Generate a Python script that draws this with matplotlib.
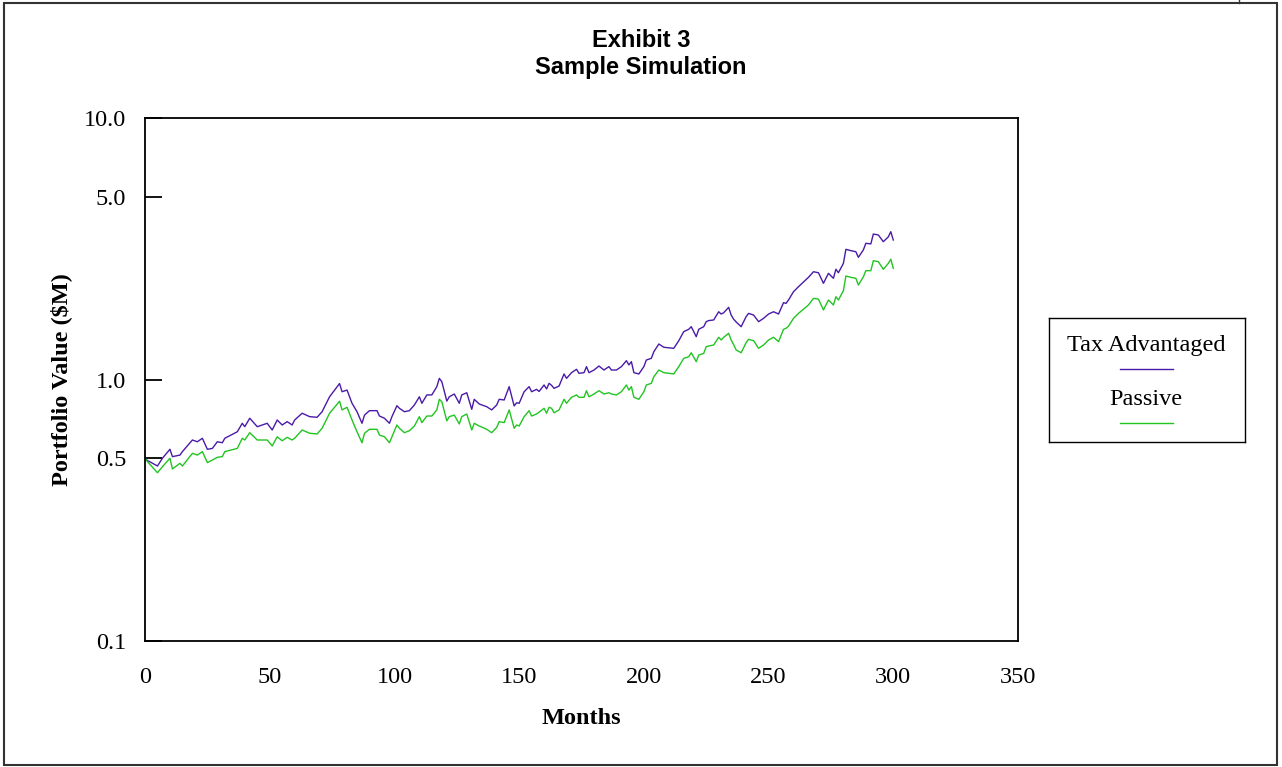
'''
Exhibit 3 - sample simulation of portfolio value, tax advantaged vs passive.
'''

import numpy as np
import matplotlib.pyplot as plt
from matplotlib.patches import Rectangle
from matplotlib.lines import Line2D


################################################################
# Data
months = [0, 1, 5, 7, 10, 11, 14, 15, 19, 21, 23, 25, 27, 29, 31, 32, 37, 39, 40, 42,
          45, 49, 51, 53, 55, 57, 59, 60, 63, 66, 69, 71, 74, 78, 79, 81, 83, 85, 87, 88,
          90, 93, 94, 96, 98, 99, 101, 102, 104, 106, 108, 110, 111, 113, 115, 117, 118, 119, 121, 122,
          124, 126, 127, 129, 131, 132, 134, 137, 139, 141, 142, 144, 146, 148, 149, 150, 152, 154, 155, 157,
          158, 160, 161, 162, 163, 164, 166, 168, 169, 171, 173, 174, 176, 177, 178, 180, 182, 184, 186, 187,
          189, 191, 193, 194, 195, 196, 198, 200, 201, 203, 204, 206, 208, 212, 214, 216, 218, 219, 221, 222,
          224, 225, 226, 228, 230, 231, 232, 234, 235, 236, 237, 239, 241, 242, 244, 246, 248, 250, 252, 254,
          256, 257, 258, 260, 262, 266, 268, 270, 272, 274, 276, 277, 278, 280, 281, 283, 285, 286, 288, 289,
          291, 292, 294, 296, 298, 299, 300]

tax_adv = [0.50, 0.49, 0.467, 0.50, 0.541, 0.507, 0.514, 0.53, 0.587, 0.578, 0.596, 0.541, 0.545, 0.578, 0.573, 0.596, 0.631, 0.68, 0.66, 0.711,
           0.66, 0.68, 0.641, 0.70, 0.67, 0.69, 0.67, 0.70, 0.743, 0.721, 0.717, 0.753, 0.859, 0.965, 0.898, 0.911, 0.811, 0.753, 0.68, 0.731,
           0.76, 0.76, 0.725, 0.711, 0.68, 0.721, 0.794, 0.776, 0.753, 0.76, 0.799, 0.859, 0.811, 0.873, 0.873, 0.939, 1.01, 0.981, 0.827, 0.859,
           0.88, 0.811, 0.873, 0.89, 0.769, 0.84, 0.806, 0.787, 0.765, 0.799, 0.84, 0.835, 0.939, 0.792, 0.815, 0.811, 0.898, 0.939, 0.898, 0.917,
           0.90, 0.953, 0.92, 0.967, 0.95, 0.925, 0.944, 1.05, 1.01, 1.062, 1.094, 1.056, 1.062, 1.12, 1.062, 1.087, 1.126, 1.087, 1.12, 1.087,
           1.087, 1.12, 1.18, 1.137, 1.17, 1.062, 1.05, 1.12, 1.187, 1.205, 1.277, 1.367, 1.328, 1.316, 1.407, 1.524, 1.556, 1.592, 1.458, 1.556,
           1.592, 1.664, 1.68, 1.689, 1.816, 1.78, 1.80, 1.888, 1.764, 1.70, 1.66, 1.592, 1.739, 1.79, 1.764, 1.664, 1.714, 1.78, 1.816, 1.78,
           1.967, 1.955, 2.014, 2.167, 2.264, 2.459, 2.583, 2.56, 2.333, 2.547, 2.438, 2.64, 2.56, 2.78, 3.146, 3.11, 3.08, 2.932, 3.13, 3.318,
           3.30, 3.60, 3.57, 3.365, 3.51, 3.675, 3.414]

passive = [0.50, 0.485, 0.44, 0.464, 0.50, 0.455, 0.478, 0.467, 0.522, 0.514, 0.53, 0.481, 0.492, 0.504, 0.507, 0.53, 0.545, 0.596, 0.587, 0.626,
           0.587, 0.587, 0.557, 0.604, 0.583, 0.601, 0.587, 0.596, 0.641, 0.623, 0.619, 0.651, 0.743, 0.826, 0.765, 0.783, 0.70, 0.631, 0.573, 0.623,
           0.645, 0.645, 0.613, 0.604, 0.573, 0.604, 0.67, 0.651, 0.626, 0.637, 0.664, 0.721, 0.684, 0.725, 0.725, 0.765, 0.84, 0.822, 0.695, 0.721,
           0.731, 0.676, 0.721, 0.738, 0.641, 0.68, 0.664, 0.645, 0.626, 0.656, 0.69, 0.684, 0.765, 0.651, 0.67, 0.664, 0.721, 0.76, 0.725, 0.738,
           0.75, 0.776, 0.743, 0.783, 0.776, 0.746, 0.765, 0.84, 0.811, 0.855, 0.873, 0.855, 0.855, 0.906, 0.859, 0.88, 0.906, 0.88, 0.89, 0.88,
           0.873, 0.898, 0.953, 0.911, 0.939, 0.855, 0.84, 0.898, 0.953, 0.967, 1.025, 1.087, 1.062, 1.05, 1.12, 1.205, 1.222, 1.266, 1.17, 1.24,
           1.259, 1.335, 1.343, 1.355, 1.45, 1.416, 1.45, 1.502, 1.416, 1.36, 1.297, 1.266, 1.383, 1.425, 1.407, 1.316, 1.355, 1.416, 1.45, 1.395,
           1.556, 1.57, 1.60, 1.714, 1.79, 1.927, 2.043, 2.03, 1.845, 2.014, 1.927, 2.073, 2.014, 2.187, 2.488, 2.459, 2.438, 2.298, 2.47, 2.607,
           2.607, 2.846, 2.822, 2.638, 2.78, 2.884, 2.661]

labels = ['Tax Advantaged', 'Passive']
yticks = [0.1, 0.5, 1.0, 5.0, 10.0]
ytick_labels = ['0.1', '0.5', '1.0', '5.0', '10.0']
xticks = [0, 50, 100, 150, 200, 250, 300, 350]

################################################################
# Style
c_tax = '#4a1aa8'
c_pas = '#22c422'
serif = 'Liberation Serif'
sans = 'Liberation Sans'
fs = 17.5

################################################################
# Plot
fig = plt.figure(figsize=(12.82, 7.67), dpi=100)
ax = fig.add_axes([145/1282, 126/767, 873/1282, 523/767])

ax.plot(months, tax_adv, color=c_tax, lw=1.0)
ax.plot(months, passive, color=c_pas, lw=1.0)

ax.set_yscale('log')
ax.set_ylim(0.1, 10)
ax.set_xlim(0, 350)
ax.set_yticks(yticks)
ax.set_yticklabels(ytick_labels)
ax.yaxis.set_minor_locator(plt.NullLocator())
ax.set_xticks(xticks)
ax.set_xticklabels([str(x) for x in xticks])

ax.tick_params(axis='y', direction='in', length=12, width=1.3, pad=13.5)
ax.tick_params(axis='x', length=0, pad=19)
for lab in ax.get_xticklabels() + ax.get_yticklabels():
    lab.set_fontfamily(serif)
    lab.set_fontsize(fs)
for sp in ax.spines.values():
    sp.set_linewidth(1.3)

ax.set_xlabel('Months', fontfamily=serif, fontsize=fs, fontweight='bold')
ax.set_ylabel(r'Portfolio Value (\$M)', fontfamily=serif, fontsize=fs, fontweight='bold')
ax.xaxis.set_label_coords(0.5, -0.128)
ax.yaxis.set_label_coords(-0.084, 0.5)

fig.text(0.5, 1 - 54/767, 'Exhibit 3\nSample Simulation', ha='center', va='center',
         fontfamily=sans, fontsize=17, fontweight='bold', linespacing=1.2)

# legend: label above its line sample
lg = fig.add_axes([1049/1282, 325/767, 196/1282, 124/767])
lg.set_xlim(0, 1)
lg.set_ylim(0, 1)
lg.set_xticks([])
lg.set_yticks([])
for sp in lg.spines.values():
    sp.set_linewidth(1.0)
lg.text(0.495, 0.775, labels[0], ha='center', va='center', fontfamily=serif, fontsize=fs)
lg.plot([0.362, 0.633], [0.59, 0.59], color=c_tax, lw=1.0)
lg.text(0.495, 0.34, labels[1], ha='center', va='center', fontfamily=serif, fontsize=fs)
lg.plot([0.362, 0.633], [0.155, 0.155], color=c_pas, lw=1.0)

# outer frame
fig.patches.append(Rectangle((4/1282, 2/767), 1273/1282, 762/767, transform=fig.transFigure,
                             fill=False, lw=1.5, ec='#333333'))
fig.add_artist(Line2D([1239/1282, 1239/1282], [1 - 3/767, 1], transform=fig.transFigure,
                      lw=1.0, color='#333333'))

plt.savefig('out.png', dpi=100)
